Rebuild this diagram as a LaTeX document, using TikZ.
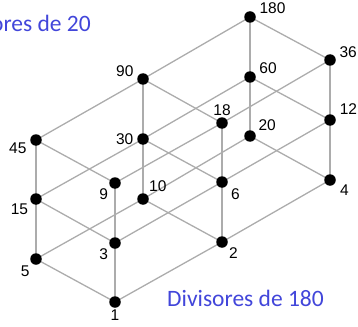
\documentclass[tikz,border=0pt]{standalone}
\usepackage{fontspec}
\setmainfont{Liberation Sans}
\newfontfamily\titlefont{Carlito}
\usetikzlibrary{backgrounds}
\definecolor{titleblue}{RGB}{66,70,218}
\definecolor{edgegray}{RGB}{172,172,172}
\tikzset{
  dot/.style={circle,fill=black,inner sep=0pt,minimum size=11.5pt},
  every label/.style={font=\fontsize{15.5}{17}\selectfont,inner sep=1.5pt},
  edge/.style={draw=edgegray,line width=1.3pt},
  title/.style={font=\titlefont\fontsize{23.5}{26}\selectfont,text=titleblue,inner sep=0pt}
}
\begin{document}
\begin{tikzpicture}[x=1pt,y=-1pt]
\useasboundingbox (0,0) rectangle (358,326);
\clip (0,0) rectangle (358,326);
% bottom layer
\node[dot,label=below:1] (n1) at (115,302) {};
\node[dot,label={[label distance=1pt]-40:2}] (n2) at (222,242) {};
\node[dot,label={[label distance=3pt]-20:4}] (n4) at (330,180) {};
\node[dot,label={[label distance=1pt]-140:3}] (n3) at (115,243) {};
\node[dot,label={[label distance=3pt]-35:6}] (n6) at (222,182) {};
\node[dot,label={[label distance=3pt]25:12}] (n12) at (330,120) {};
\node[dot,label={[label distance=1pt]-140:9}] (n9) at (115,183) {};
\node[dot,label=above:18] (n18) at (222,123) {};
\node[dot,label={[label distance=2pt]5:36}] (n36) at (330,60) {};
% top layer
\node[dot,label={[label distance=1pt]-135:5}] (n5) at (36,259) {};
\node[dot,label={[label distance=1pt]50:10}] (n10) at (143,199) {};
\node[dot,label={[label distance=2pt]30:20}] (n20) at (250,136) {};
\node[dot,label={[label distance=1pt]-155:15}] (n15) at (36,199) {};
\node[dot,label={[label distance=2pt]left:30}] (n30) at (143,139) {};
\node[dot,label={[label distance=2pt]15:60}] (n60) at (250,77) {};
\node[dot,label={[label distance=2pt]188:45}] (n45) at (36,140) {};
\node[dot,label={[label distance=2pt]175:90}] (n90) at (143,79) {};
\node[dot,label={[label distance=2pt]10:180}] (n180) at (250,17) {};
% edges
\begin{pgfonlayer}{background}
\foreach \a/\b in {n1/n2,n2/n4,n3/n6,n6/n12,n9/n18,n18/n36,
                   n5/n10,n10/n20,n15/n30,n30/n60,n45/n90,n90/n180,
                   n1/n3,n3/n9,n2/n6,n6/n18,n4/n12,n12/n36,
                   n5/n15,n15/n45,n10/n30,n30/n90,n20/n60,n60/n180,
                   n1/n5,n2/n10,n4/n20,n3/n15,n6/n30,n12/n60,n9/n45,n18/n90,n36/n180}
  \draw[edge] (\a.center) -- (\b.center);
\end{pgfonlayer}
% titles
\node[title,anchor=base east] (t20) at (91,32) {Divisores de 20};
\node[title,anchor=base east] (t180) at (324,306) {Divisores de 180};
\end{tikzpicture}
\end{document}
